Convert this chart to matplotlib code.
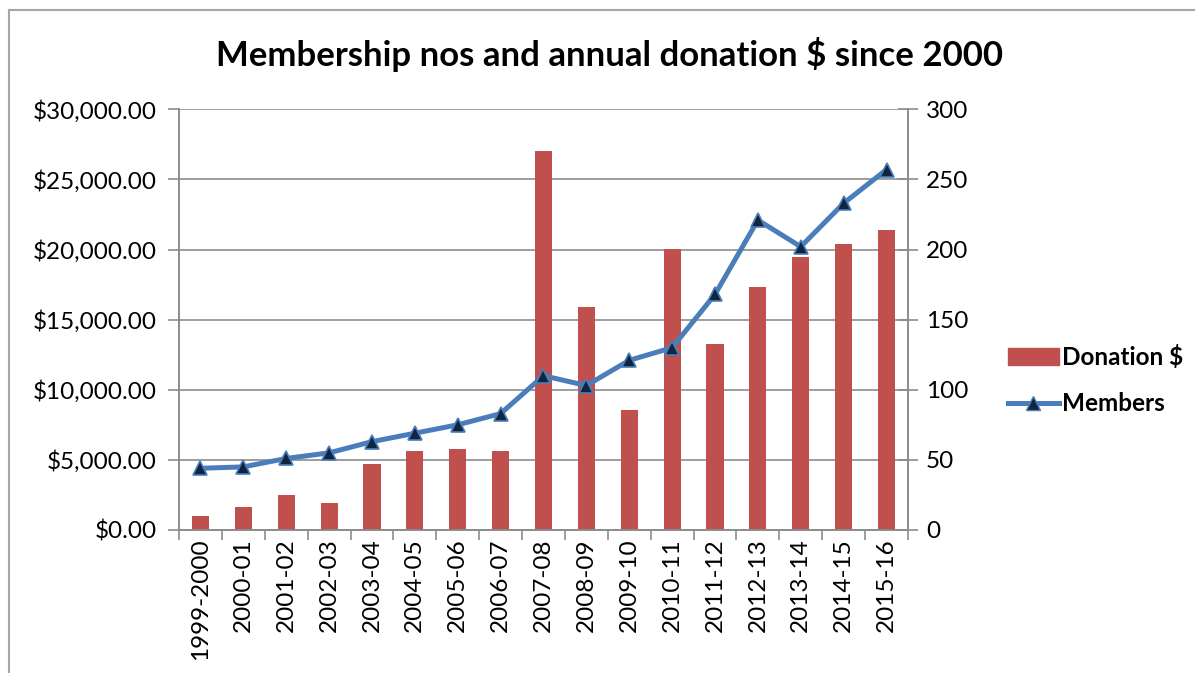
import numpy as np
import matplotlib.pyplot as plt
from matplotlib import ticker
from matplotlib.lines import Line2D

# data
years = ["1999-2000", "2000-01", "2001-02", "2002-03", "2003-04", "2004-05",
         "2005-06", "2006-07", "2007-08", "2008-09", "2009-10", "2010-11",
         "2011-12", "2012-13", "2013-14", "2014-15", "2015-16"]
donations = [1020, 1640, 2500, 1920, 4730, 5630, 5750, 5630, 27010, 15880,
             8560, 20020, 13290, 17310, 19500, 20400, 21380]
members = [44, 45, 51, 55, 63, 69, 75, 83, 110, 103, 121, 130,
           168, 221, 202, 233, 257]

bar_col = "#C0504D"
line_col = "#4A7EBB"
grid_col = "#8C8C8C"
fs = 17.5

plt.rcParams['font.family'] = ['Lato', 'DejaVu Sans']

fig = plt.figure(figsize=(11.95, 6.73), dpi=100)
ax = fig.add_axes([0.1498, 0.2125, 0.6100, 0.6251])
ax2 = ax.twinx()

x = np.arange(len(years))
ax.bar(x, donations, width=0.4, color=bar_col, zorder=2, label="Donation $")
ax2.plot(x, members, color=line_col, lw=3.6, marker="^", ms=10,
         markerfacecolor="#10253F", markeredgecolor=line_col, markeredgewidth=1.2,
         zorder=3, label="Members")

ax.set_xlim(-0.5, len(years) - 0.5)
ax.set_ylim(0, 30000)
ax2.set_ylim(0, 300)
ax.yaxis.set_major_locator(ticker.MultipleLocator(5000))
ax2.yaxis.set_major_locator(ticker.MultipleLocator(50))
ax.yaxis.set_major_formatter(ticker.FuncFormatter(lambda v, p: f"${v:,.2f}"))
ax.grid(axis="y", color=grid_col, lw=1.2, zorder=0)
ax.set_axisbelow(True)

ax.set_xticks(x)
ax.set_xticklabels(years, rotation=90)
ax.set_xticks(np.arange(-0.5, len(years), 1), minor=True)
ax.tick_params(axis="x", which="major", length=0, labelsize=fs, pad=6)
ax.tick_params(axis="x", which="minor", length=7, color=grid_col, width=1.2)
ax.tick_params(axis="y", length=8, color=grid_col, width=1.2, labelsize=fs, pad=8)
ax2.tick_params(axis="y", direction="inout", length=14, color=grid_col, width=1.2,
                labelsize=fs, pad=6)

for a in (ax, ax2):
    a.spines["top"].set_visible(False)
    for s in ("left", "right", "bottom"):
        a.spines[s].set_color(grid_col)
        a.spines[s].set_linewidth(1.2)

fig.suptitle("Membership nos and annual donation $ since 2000", x=0.51, y=0.945,
             fontsize=25, fontweight="bold")

handles = [plt.Rectangle((0, 0), 1, 1, color=bar_col),
           Line2D([], [], color=line_col, lw=3.6, marker="^", ms=10,
                  markerfacecolor="#10253F", markeredgecolor=line_col)]
leg = fig.legend(handles, ["Donation $", "Members"], loc="center left",
                 bbox_to_anchor=(0.825, 0.435), frameon=False,
                 prop={"size": fs, "weight": "bold"}, handlelength=2.1,
                 handletextpad=0.15, labelspacing=0.95)

# chart-area border (top and left visible in the crop)
fig.add_artist(Line2D([9 / 1195, 1], [1 - 10 / 673, 1 - 10 / 673],
                      transform=fig.transFigure, color="#A6A6A6", lw=1.5))
fig.add_artist(Line2D([9 / 1195, 9 / 1195], [0, 1 - 10 / 673],
                      transform=fig.transFigure, color="#A6A6A6", lw=1.5))

fig.savefig("out.png", dpi=100, facecolor="white")
